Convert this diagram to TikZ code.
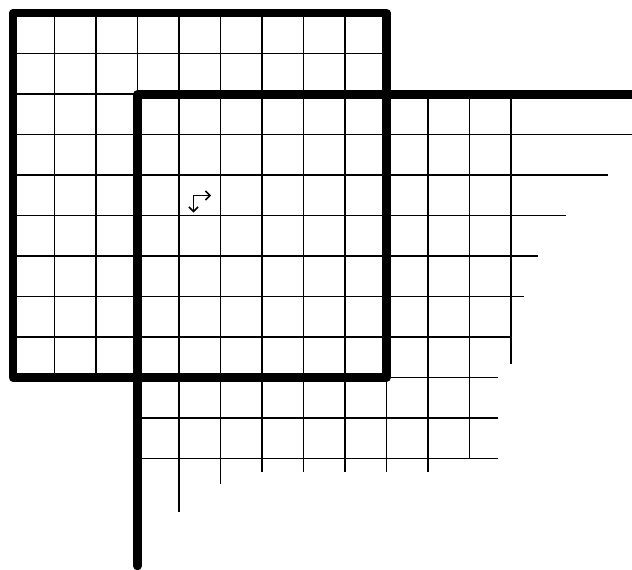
\documentclass[tikz,border=0pt]{standalone}
\usetikzlibrary{arrows.meta}
\begin{document}
\begin{tikzpicture}[x=1pt,y=-1pt,
  thinline/.style={line width=1.9pt,black},
  thickline/.style={line width=8.5pt,black,line join=round,line cap=round},
  smallarrow/.style={line width=1.5pt,black,{Straight Barb[length=4.5pt,width=9pt]}-{Straight Barb[length=4.5pt,width=9pt]}}]
\useasboundingbox[fill=white] (0,0) rectangle (632,570);
% first (left) grid: thin lines
\foreach \i in {1,...,8} {
  \draw[thinline] ({13+41.5*\i},13) -- ({13+41.5*\i},377.5);
  \draw[thinline] (13,{13+40.5*\i}) -- (386.5,{13+40.5*\i});
}
% second grid: horizontal lines (row index, right end)
\foreach \r/\e in {3/632,4/608,5/566,6/538,7/524,8/511,9/498,10/498,11/498} {
  \draw[thinline] (137.5,{13+40.5*\r}) -- (\e,{13+40.5*\r});
}
% second grid: vertical lines (column index, lower end)
\foreach \c/\e in {4/512,5/484,6/472,7/472,8/472,9/472,10/472,11/458.5,12/364} {
  \draw[thinline] ({13+41.5*\c},94) -- ({13+41.5*\c},\e);
}
% thick outlines
\draw[thickline] (13,13) rectangle (386.5,377.5);
\draw[thickline] (137.5,566) -- (137.5,94.5) -- (640,94.5);
% small arrow symbol
\coordinate (arrA) at (193.5,212.5);
\coordinate (arrB) at (211,195.5);
\draw[smallarrow] (arrA) |- (arrB);
\end{tikzpicture}
\end{document}
